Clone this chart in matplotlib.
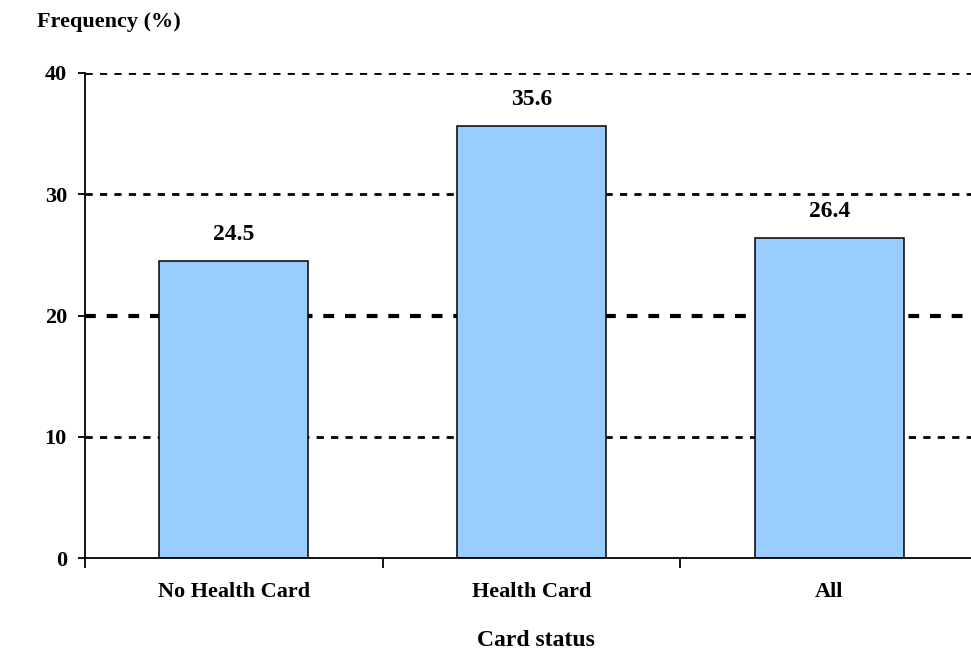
import matplotlib.pyplot as plt
import numpy as np

categories = ["No Health Card", "Health Card", "All"]
values = [24.5, 35.6, 26.4]
y_ticks = [0, 10, 20, 30, 40]

plt.rcParams["font.family"] = ["Liberation Serif", "DejaVu Serif"]
plt.rcParams["font.weight"] = "bold"

fig = plt.figure(figsize=(9.71, 6.53), dpi=100)
# axes from x=85 to ~978 px (slightly past the right edge), y from 73 to 558 px
ax = fig.add_axes([85 / 971, 1 - 558 / 653, (978 - 85) / 971, (558 - 73) / 653])

x = np.arange(len(categories))
for yv in y_ticks[1:]:
    lw = 3.0 if yv == 20 else 2.0
    ax.axhline(yv, color="black", lw=lw, dashes=(2.6, 2.6), zorder=1)

bars = ax.bar(x, values, width=0.5, color="#99CCFF", edgecolor="black",
              linewidth=1.1, zorder=2)
for xi, v in zip(x, values):
    ax.annotate(f"{v:.1f}", (xi, v), xytext=(0, 19), textcoords="offset points",
                ha="center", va="center", fontsize=17, fontweight="bold")

ax.set_xlim(-0.5, 2.5)
ax.set_ylim(0, 40)
ax.set_yticks(y_ticks)
ax.set_yticklabels([str(t) for t in y_ticks], fontsize=16, fontweight="bold")
ax.set_xticks([-0.5, 0.5, 1.5])
ax.set_xticklabels([])
ax.set_xticks(x, minor=True)
ax.set_xticklabels(categories, minor=True, fontsize=16, fontweight="bold")
ax.tick_params(axis="x", which="minor", length=0, pad=17)
ax.tick_params(axis="x", which="major", length=7, width=1.3, direction="out")
ax.tick_params(axis="y", length=5, width=1.3, direction="out", pad=8)

for s in ["top", "right"]:
    ax.spines[s].set_visible(False)
ax.spines["left"].set_linewidth(1.3)
ax.spines["bottom"].set_linewidth(1.3)

fig.text(37 / 971, 1 - 22 / 653, "Frequency (%)", fontsize=16, fontweight="bold",
         va="center", ha="left")
fig.text(536 / 971, 1 - 641 / 653, "Card status", fontsize=17, fontweight="bold",
         va="center", ha="center")

fig.savefig("out.png", dpi=100)
